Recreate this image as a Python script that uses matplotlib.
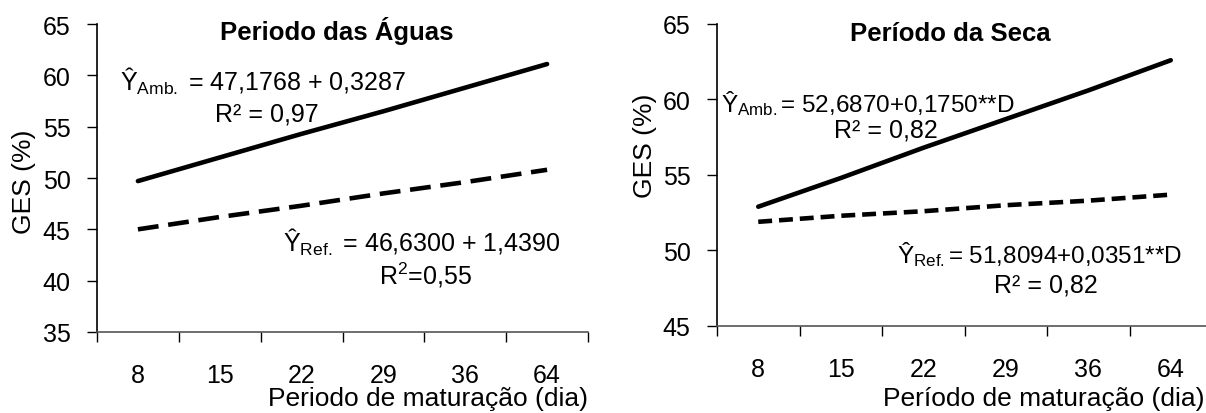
import numpy as np
import matplotlib
matplotlib.use('Agg')
import matplotlib.pyplot as plt

plt.rcParams['font.family'] = ['Liberation Sans', 'DejaVu Sans']
plt.rcParams['mathtext.fontset'] = 'custom'
plt.rcParams['mathtext.rm'] = 'Liberation Sans'
plt.rcParams['mathtext.it'] = 'Liberation Sans:italic'
plt.rcParams['lines.scale_dashes'] = False

dias = ['8', '15', '22', '29', '36', '64']

# Periodo das Aguas
aguas_amb = [49.7, 52.0, 54.3, 56.5, 58.8, 61.1]
aguas_ref = [45.0, 46.2, 47.3, 48.5, 49.6, 50.8]

# Periodo da Seca
seca_amb = [52.9, 54.8, 56.8, 58.7, 60.6, 62.6]
seca_ref = [51.9, 52.3, 52.6, 53.0, 53.3, 53.7]

fs = 18
W, H = 1206, 414
fig = plt.figure(figsize=(W / 100, H / 100), dpi=100)

def px_axes(x0, x1, ytop, ybot):
    return fig.add_axes([x0 / W, 1 - ybot / H, (x1 - x0) / W, (ybot - ytop) / H])

def style(ax, ylo, yhi):
    x = np.arange(len(dias))
    ax.set_xlim(-0.5, len(dias) - 0.5)
    ax.set_ylim(ylo, yhi)
    ax.set_yticks(np.arange(ylo, yhi + 1, 5))
    ax.set_xticks(np.arange(-0.5, len(dias), 1.0))
    ax.set_xticklabels([])
    ax.set_xticks(x, minor=True)
    ax.set_xticklabels(dias, minor=True)
    ax.tick_params(axis='x', which='major', direction='out', length=7, width=1)
    ax.tick_params(axis='x', which='minor', length=0, pad=22, labelsize=fs)
    ax.tick_params(axis='y', direction='out', length=7, width=1, labelsize=fs, pad=12)
    for s in ['top', 'right']:
        ax.spines[s].set_visible(False)
    ax.spines['left'].set_linewidth(1.2)
    ax.spines['bottom'].set_linewidth(1.2)
    ax.spines['bottom'].set_color('#555555')
    return x

# left panel
ax1 = px_axes(97, 588, 25, 333)
x = style(ax1, 35, 65)
ax1.plot(x, aguas_amb, color='black', lw=3.3, solid_capstyle='round')
ax1.plot(x, aguas_ref, color='black', lw=3.3, dashes=(15, 7))
ax1.text(0.489, 0.951, 'Periodo das Águas', transform=ax1.transAxes, ha='center',
         va='baseline', fontsize=18.5, fontweight='bold')
ax1.text(0.047, 0.786, r'Ŷ$_{\mathrm{Amb.}}$ = 47,1768 + 0,3287', transform=ax1.transAxes,
         va='baseline', fontsize=fs)
ax1.text(0.240, 0.688, 'R² = 0,97', transform=ax1.transAxes, va='baseline', fontsize=fs)
ax1.text(0.379, 0.264, r'Ŷ$_{\mathrm{Ref.}}$ = 46,6300 + 1,4390', transform=ax1.transAxes,
         va='baseline', fontsize=fs)
ax1.text(0.574, 0.157, r'R$^{2}$=0,55', transform=ax1.transAxes, va='baseline', fontsize=fs)
ax1.set_ylabel('GES (%)', fontsize=19, va='center')
ax1.yaxis.set_label_coords(-0.149, 0.49)
ax1.set_xlabel('Periodo de maturação (dia)', fontsize=19)
ax1.xaxis.set_label_coords(1.0, -0.214)
ax1.xaxis.label.set_ha('right')
ax1.xaxis.label.set_va('center')

# right panel
ax2 = px_axes(717, 1212, 25, 327)
x = style(ax2, 45, 65)
ax2.plot(x, seca_amb, color='black', lw=3.3, solid_capstyle='round')
ax2.plot(x, seca_ref, color='black', lw=3.3, dashes=(10, 5))
ax2.text(0.471, 0.947, 'Período da Seca', transform=ax2.transAxes, ha='center',
         va='baseline', fontsize=18.5, fontweight='bold')
ax2.text(0.008, 0.712, r'Ŷ$_{\mathrm{Amb.}}$= 52,6870+0,1750**D', transform=ax2.transAxes,
         va='baseline', fontsize=17.5)
ax2.text(0.236, 0.626, 'R² = 0,82', transform=ax2.transAxes, va='baseline', fontsize=fs)
ax2.text(0.364, 0.212, r'Ŷ$_{\mathrm{Ref.}}$= 51,8094+0,0351**D', transform=ax2.transAxes,
         va='baseline', fontsize=17.5)
ax2.text(0.560, 0.113, 'R² = 0,82', transform=ax2.transAxes, va='baseline', fontsize=fs)
ax2.set_ylabel('GES (%)', fontsize=19, va='center')
ax2.yaxis.set_label_coords(-0.145, 0.6)
ax2.set_xlabel('Período de maturação (dia)', fontsize=19)
ax2.xaxis.set_label_coords(0.984, -0.238)
ax2.xaxis.label.set_ha('right')
ax2.xaxis.label.set_va('center')

fig.savefig('out.png', dpi=100)
